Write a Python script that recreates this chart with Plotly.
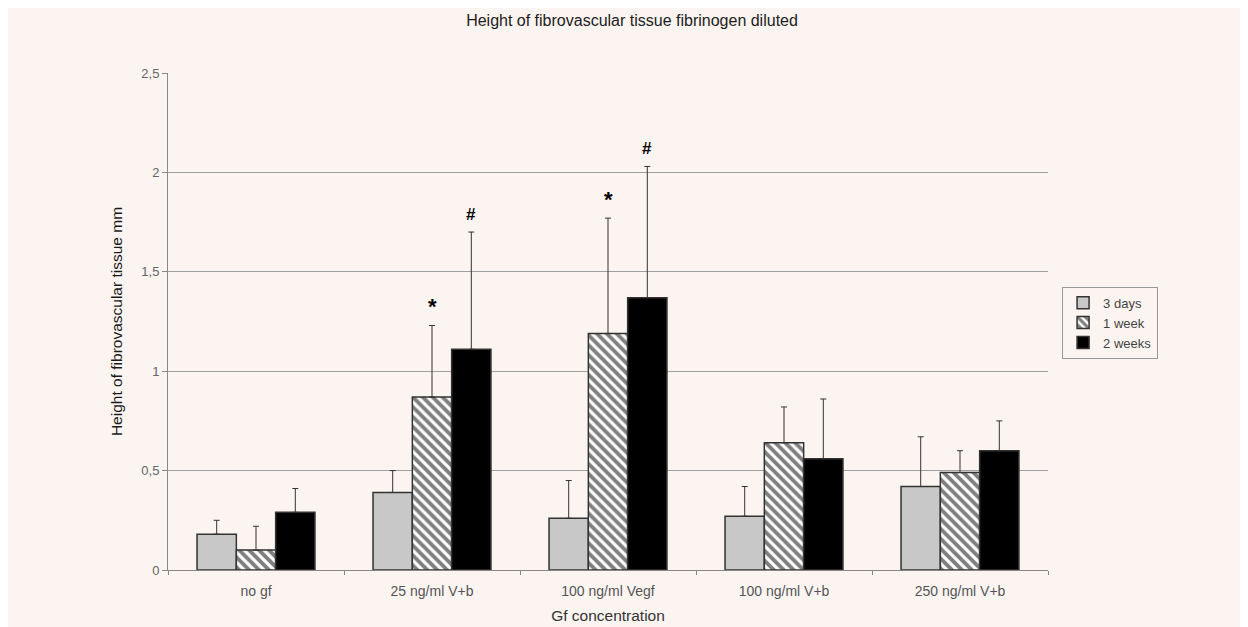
import plotly.graph_objects as go

categories = ["no gf", "25 ng/ml V+b", "100 ng/ml Vegf", "100 ng/ml V+b", "250 ng/ml V+b"]
series_names = ["3 days", "1 week", "2 weeks"]
days3 = [0.18, 0.39, 0.26, 0.27, 0.42]
days3_top = [0.25, 0.50, 0.45, 0.42, 0.67]
week1 = [0.10, 0.87, 1.19, 0.64, 0.49]
week1_top = [0.22, 1.23, 1.77, 0.82, 0.60]
week2 = [0.29, 1.11, 1.37, 0.56, 0.60]
week2_top = [0.41, 1.70, 2.03, 0.86, 0.75]
# significance marks: (category, series index, symbol)
marks = [("25 ng/ml V+b", 1, "*"), ("25 ng/ml V+b", 2, "#"),
         ("100 ng/ml Vegf", 1, "*"), ("100 ng/ml Vegf", 2, "#")]

BG = "#FCF4F1"
FONT = "Liberation Sans, Arial, sans-serif"

fig = go.Figure()
vals = [days3, week1, week2]
tops = [days3_top, week1_top, week2_top]
styles = [
    dict(color="#C8C8C8"),
    dict(color="white", pattern=dict(shape="\\", fgcolor="black", bgcolor="white", size=7, solidity=0.55)),
    dict(color="black"),
]
for name, v, t, st in zip(series_names, vals, tops, styles):
    fig.add_trace(go.Bar(
        x=categories, y=v, name=name,
        marker=dict(line=dict(color="#333333", width=1.5), **st),
        error_y=dict(type="data", symmetric=False,
                     array=[tt - vv for tt, vv in zip(t, v)],
                     arrayminus=[0] * len(v),
                     color="#333333", thickness=1, width=3),
    ))

for cat, si, sym in marks:
    i = categories.index(cat)
    fig.add_annotation(x=cat, y=tops[si][i], text="<b>%s</b>" % sym, showarrow=False,
                       xshift=(si - 1) * 39, yshift=19 if sym == "*" else 18,
                       font=dict(size=22 if sym == "*" else 17, color="black", family=FONT))

fig.update_layout(
    width=1248, height=627,
    paper_bgcolor=BG, plot_bgcolor=BG,
    separators=", ",
    font=dict(family=FONT, size=12, color="#555555"),
    title=dict(text="Height of fibrovascular tissue fibrinogen diluted",
               x=0.5, xanchor="center", y=0.981, yanchor="middle",
               font=dict(size=16, color="#222222")),
    margin=dict(l=160, r=208, t=65, b=65),
    barmode="group", bargap=0.33, bargroupgap=0,
    legend=dict(x=1.016, y=0.57, xanchor="left", yanchor="top",
                bgcolor=BG, bordercolor="#999999", borderwidth=1,
                font=dict(size=13, color="#444444"),
                tracegroupgap=0, itemwidth=30),
    showlegend=True,
)
fig.update_xaxes(
    showline=True, linecolor="#888888", linewidth=1,
    ticks="outside", tickson="boundaries", ticklen=4, tickcolor="#888888",
    ticklabelstandoff=8,
    tickfont=dict(size=14, color="#555555"),
    title=dict(text="Gf concentration", font=dict(size=15.5, color="#333333"), standoff=12),
)
fig.update_yaxes(
    range=[0, 2.5], dtick=0.5, showgrid=True, gridcolor="#A0A0A0", gridwidth=1,
    showline=True, linecolor="#888888", linewidth=1,
    ticks="outside", ticklen=5, tickcolor="#888888",
    tickfont=dict(size=13, color="#666666"),
    zeroline=False,
    title=dict(text="Height of fibrovascular tissue mm", font=dict(size=15.5, color="#1a1a1a"), standoff=14),
)

fig.write_html("out.html")
